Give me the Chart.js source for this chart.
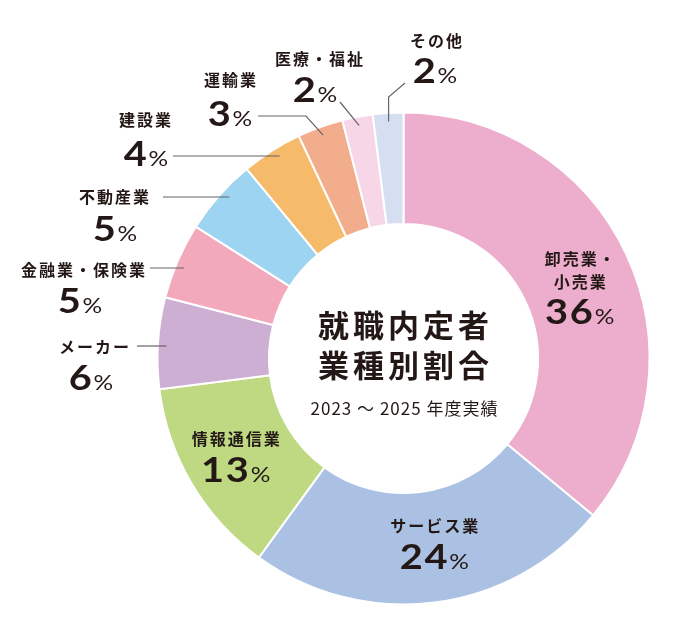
<!DOCTYPE html>
<html lang="ja">
<head>
<meta charset="UTF-8">
<script src="https://cdn.jsdelivr.net/npm/chart.js"></script>
<title>就職内定者 業種別割合</title>
<style>
    html, body { margin: 0; padding: 0; background: #fff; }
    .wrap { position: relative; width: 680px; height: 635px; }
</style>
</head>
<body>
<div class="wrap"><canvas id="pie"></canvas></div>
<script>
// data
const categories = ['卸売業・小売業', 'サービス業', '情報通信業', 'メーカー', '金融業・保険業', '不動産業', '建設業', '運輸業', '医療・福祉', 'その他'];
const shares = [36, 24, 13, 6, 5, 5, 4, 3, 2, 2];
const colors = ['#EDADCC', '#AAC1E3', '#BED982', '#CDAFD3', '#F2A9BC', '#9DD4F2', '#F5BB6B', '#F2AE8C', '#F7D7E7', '#D6DFF2'];

const centerTitle = ['就職内定者', '業種別割合'];
const centerSub = '2023 ～ 2025 年度実績';

const INK = '#231815';
const JP = '"Noto Sans CJK JP", "Noto Sans", sans-serif';
const NUM = 'Lato, "Noto Sans", sans-serif';

// label placement: inside ones sit on the slice centroid (+ nudge),
// outside ones are placed by hand and joined to the ring with a leader line
const labelLayout = [
    { inside: true, lines: ['卸売業・', '小売業'], dx: 4, dy: 8 },
    { inside: true, dx: 7, dy: -6 },
    { inside: true, dx: -4, dy: -1 },
    { name: [94, 347], pct: [91, 378], line: [[137, 346], 'arc'] },
    { name: [83, 270], pct: [80, 301], line: [[150, 268], 'arc'] },
    { name: [114, 197], pct: [115, 229], line: [[163, 197], 'arc'] },
    { name: [145, 120], pct: [146, 154], line: [[173, 156], 'arc'] },
    { name: [230, 80], pct: [230, 114], line: [[258, 116], [306, 116], 'mid'] },
    { name: [319, 59], pct: [315, 90], line: [[340, 102], 'mid'] },
    { name: [436, 41], pct: [435, 71], line: [[405, 83], [null, 97], 'mid'] }
];

function drawName(ctx, text, x, y) {
    ctx.font = 'bold 16px ' + JP;
    ctx.letterSpacing = '2px';
    ctx.textAlign = 'center';
    ctx.textBaseline = 'middle';
    ctx.fillText(text, x + 1, y);
    ctx.letterSpacing = '0px';
}

// the original numerals are a wide geometric face, so stretch Lato a bit
function drawPct(ctx, value, cx, cy) {
    const big = 'bold 34px ' + NUM;
    const small = '400 21px ' + NUM;
    const stretch = 1.17;
    ctx.save();
    ctx.translate(cx, cy + 12);
    ctx.scale(stretch, 1);
    ctx.textAlign = 'left';
    ctx.textBaseline = 'alphabetic';
    ctx.font = big;
    ctx.letterSpacing = '1.5px';
    const wd = ctx.measureText(String(value)).width;
    ctx.letterSpacing = '0px';
    ctx.font = small;
    const wp = ctx.measureText('%').width;
    const x0 = -(wd + wp) / 2;
    ctx.font = big;
    ctx.letterSpacing = '1.5px';
    ctx.fillText(String(value), x0, 0);
    ctx.letterSpacing = '0px';
    ctx.font = small;
    ctx.fillText('%', x0 + wd, 0);
    ctx.restore();
}

const labelPlugin = {
    id: 'sliceLabels',
    afterDatasetsDraw(chart) {
        const ctx = chart.ctx;
        const arcs = chart.getDatasetMeta(0).data;
        const first = arcs[0].getProps(['x', 'y', 'outerRadius'], true);
        const cx = first.x, cy = first.y;
        const rLead = first.outerRadius * 0.965;

        ctx.save();
        ctx.fillStyle = INK;

        // centre title
        ctx.textAlign = 'center';
        ctx.textBaseline = 'middle';
        ctx.font = 'bold 31px ' + JP;
        ctx.letterSpacing = '4px';
        ctx.fillText(centerTitle[0], cx + 2, cy - 33);
        ctx.fillText(centerTitle[1], cx + 2, cy + 7);
        ctx.font = '17px ' + JP;
        ctx.letterSpacing = '1px';
        ctx.fillText(centerSub, cx + 1, cy + 50);
        ctx.letterSpacing = '0px';

        arcs.forEach((arc, i) => {
            const lay = labelLayout[i];
            const p = arc.getProps(['startAngle', 'endAngle'], true);
            if (lay.inside) {
                const pos = arc.tooltipPosition(true);
                const lines = lay.lines || [categories[i]];
                const x = pos.x + lay.dx;
                const top = pos.y + lay.dy - (lines.length * 23 + 8) / 2;
                lines.forEach((t, k) => drawName(ctx, t, x, top + k * 23));
                drawPct(ctx, shares[i], x, top + (lines.length - 1) * 23 + 31);
                return;
            }
            drawName(ctx, categories[i], lay.name[0], lay.name[1]);
            drawPct(ctx, shares[i], lay.pct[0], lay.pct[1]);

            // leader line
            const mid = (p.startAngle + p.endAngle) / 2;
            const pts = [];
            lay.line.forEach(pt => {
                if (pt === 'arc') {
                    const y = pts[pts.length - 1][1];
                    pts.push([cx - Math.sqrt(rLead * rLead - (y - cy) * (y - cy)), y]);
                } else if (pt === 'mid') {
                    pts.push([cx + Math.cos(mid) * rLead, cy + Math.sin(mid) * rLead]);
                } else {
                    pts.push(pt.slice());
                }
            });
            // a null x follows the arc end point (vertical drop)
            const end = pts[pts.length - 1];
            pts.forEach(pt => { if (pt[0] === null) pt[0] = end[0]; });
            ctx.strokeStyle = '#666464';
            ctx.lineWidth = 1.2;
            ctx.beginPath();
            pts.forEach((pt, k) => k ? ctx.lineTo(pt[0], pt[1]) : ctx.moveTo(pt[0], pt[1]));
            ctx.stroke();
        });
        ctx.restore();
    }
};

new Chart(document.getElementById('pie'), {
    type: 'doughnut',
    data: {
        labels: categories,
        datasets: [{
            data: shares,
            backgroundColor: colors,
            borderColor: '#ffffff',
            borderWidth: 2
        }]
    },
    plugins: [labelPlugin],
    options: {
        responsive: true,
        maintainAspectRatio: false,
        animation: false,
        cutout: '54.7%',
        layout: { padding: { left: 156.5, right: 29.5, top: 111.5, bottom: 29.5 } },
        plugins: {
            legend: { display: false },
            tooltip: { enabled: false }
        }
    }
});
</script>
</body>
</html>
